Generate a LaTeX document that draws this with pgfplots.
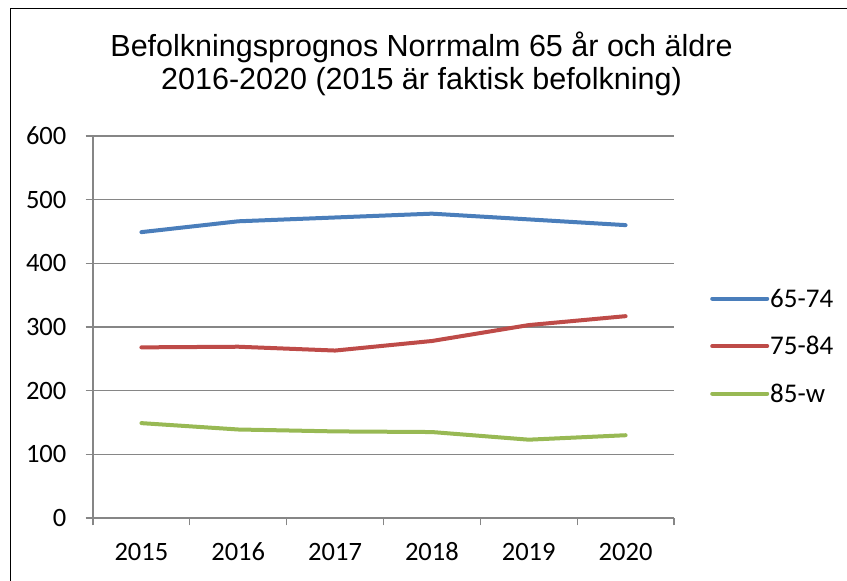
\documentclass[border=0pt]{standalone}
\usepackage{pgfplots}
\pgfplotsset{compat=1.18}
\usepackage{fontspec}
\setmainfont{Carlito}
\newfontfamily\titlefont{Liberation Sans}
\definecolor{sblue}{HTML}{4A7EBB}
\definecolor{sred}{HTML}{BE4B48}
\definecolor{sgreen}{HTML}{98B954}
\definecolor{axgray}{HTML}{868686}
\begin{document}
\begin{tikzpicture}[x=1bp,y=1bp]
\useasboundingbox (0,0) rectangle (847,581);
\draw[line width=1.4bp, black] (10.5,-20) -- (10.5,572.5) -- (870,572.5);
\node[anchor=base, inner sep=0pt, font=\titlefont\fontsize{30.5bp}{34bp}\selectfont] at (421.5,524) {Befolkningsprognos Norrmalm 65 år och äldre};
\node[anchor=base, inner sep=0pt, font=\titlefont\fontsize{30.5bp}{34bp}\selectfont] at (421.5,491) {2016-2020 (2015 är faktisk befolkning)};
\begin{axis}[
  at={(93bp,63bp)}, anchor=south west,
  scale only axis, width=581bp, height=382bp,
  xmin=-0.5, xmax=5.5, ymin=0, ymax=600,
  axis lines=left,
  axis line style={-, draw=axgray, line width=1.3bp},
  tick style={draw=axgray, line width=1.3bp},
  tick align=outside, major tick length=7.5bp,
  ytick={0,100,...,600},
  ymajorgrids,
  major grid style={draw=axgray, line width=1.3bp},
  xtick={-0.5,0.5,...,5.5},
  xticklabels={2015,2016,2017,2018,2019,2020,{}},
  ticklabel style={font=\fontsize{26.5bp}{30bp}\selectfont},
  /pgf/number format/assume math mode=true,
  xticklabel style={anchor=base, inner sep=0pt, xshift=48.4bp, yshift=-35bp},
  yticklabel style={anchor=east, inner sep=0pt, xshift=-19bp},
  clip=false,
  legend style={at={(1.062,0.450)}, anchor=west, draw=none, fill=none, inner sep=0pt,
    row sep=30.5bp, column sep=1bp, font=\fontsize{27bp}{30bp}\selectfont,
    nodes={inner sep=0pt, text height=17bp, text depth=0pt}},
  legend cell align=left,
  legend image code/.code={\draw[#1] (0bp,0bp) -- (55bp,0bp);},
]
\addplot[sblue, line width=4bp, line cap=round, line join=round] coordinates {(0,449) (1,466) (2,472) (3,478) (4,469) (5,460)};
\addlegendentry{65-74}
\addplot[sred, line width=4bp, line cap=round, line join=round] coordinates {(0,268) (1,269) (2,263) (3,278) (4,303) (5,317)};
\addlegendentry{75-84}
\addplot[sgreen, line width=4bp, line cap=round, line join=round] coordinates {(0,149) (1,139) (2,136) (3,135) (4,123) (5,130)};
\addlegendentry{85-w}
\end{axis}
\end{tikzpicture}
\end{document}
